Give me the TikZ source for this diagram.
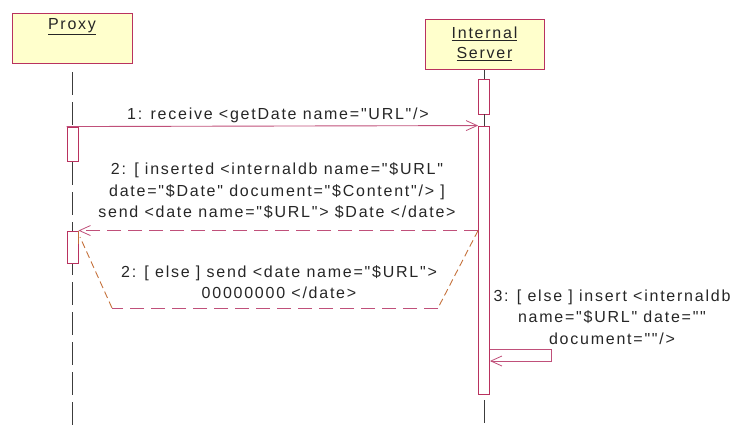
\documentclass[tikz,border=0pt]{standalone}
\usepackage{fontspec}
\setmainfont{Liberation Sans}[LetterSpace=11,Ligatures=TeXOff]
\usetikzlibrary{arrows.meta}
\definecolor{objfill}{RGB}{255,255,204}
\definecolor{objline}{RGB}{185,50,95}
\definecolor{msgline}{RGB}{192,80,122}
\definecolor{elseline}{RGB}{196,112,58}
\definecolor{lifeline}{RGB}{60,60,60}
\tikzset{
  obj/.style={draw=objline, fill=objfill, line width=0.9pt, inner sep=0pt},
  act/.style={draw=objline, fill=white, line width=0.9pt, inner sep=0pt, minimum width=11pt},
  life/.style={draw=lifeline, line width=1pt, dash pattern=on 23pt off 7pt},
  msg/.style={draw=msgline, line width=0.9pt},
  reply/.style={msg, dash pattern=on 14pt off 7pt},
  elsediag/.style={draw=elseline, line width=0.9pt, dash pattern=on 7pt off 4pt},
  tip/.style={-{Straight Barb[length=11pt,width=10pt,line width=0.8pt]}},
  lbl/.style={font=\fontsize{16}{21.5}\selectfont, text=black!85, align=center, inner sep=0pt}
}
\begin{document}
\begin{tikzpicture}[x=1pt,y=-1pt]
\useasboundingbox (0,0) rectangle (730,426);

% object boxes
\node[obj, minimum width=120pt, minimum height=50pt] (proxy) at (72,38) {};
\node[lbl] at (72,27) {\underline{Proxy}};
\node[obj, minimum width=119pt, minimum height=50pt] (server) at (484.5,44) {};
\node[lbl] at (484.5,44) {\underline{Internal}\\[-1pt]\underline{Server}};

% lifelines
\coordinate (pl0) at (72,72);
\coordinate (pl1) at (72,426);
\coordinate (sl0) at (484,70);
\coordinate (sl1) at (484,426);
\draw[life] (pl0) -- (pl1);
\draw[life] (sl0) -- (sl1);

% activations
\node[act, minimum height=35pt] (s1) at (484,96.5) {};
\node[act, minimum height=268pt] (s2) at (484,260) {};
\draw[lifeline, line width=1pt] (s1.south) -- (s2.north);
\node[act, minimum height=34pt] (a1) at (72.5,144) {};
\node[act, minimum height=32pt] (a2) at (72.5,247) {};

% 1: request
\draw[msg, tip] (a1.north west) -- (s2.north west);
\node[lbl] at (278,115) {1: receive <getDate name="URL"/>};

% 2: reply when inserted
\coordinate (r0) at (s2.west |- a2.north);
\draw[reply, tip] (r0) -- (a2.north east);
\node[lbl] at (277,191) {2: [ inserted <internaldb name="\$URL"\\
date="\$Date" document="\$Content"/> ]\\
send <date name="\$URL"> \$Date </date>};

% 2: reply otherwise
\coordinate (e1) at (438,308);
\coordinate (e2) at (112,308);
\coordinate (e3) at (80,237);
\draw[elsediag] (r0) -- (e1);
\draw[reply] (e1) -- (e2);
\draw[elsediag] (e2) -- (e3);
\draw[draw=elseline, line width=1.2pt] (a2.north east) -- ++(0,13);
\node[lbl] at (279,282) {2: [ else ] send <date name="\$URL">\\ 00000000 </date>};

% 3: self call
\coordinate (m1) at (551,349);
\coordinate (m2) at (551,361);
\draw[msg, tip] (s2.east |- m1) -- (m1) -- (m2) -- (s2.east |- m2);
\node[lbl] at (612,317) {3: [ else ] insert <internaldb\\ name="\$URL" date=""\\ document=""/>};
\end{tikzpicture}
\end{document}
